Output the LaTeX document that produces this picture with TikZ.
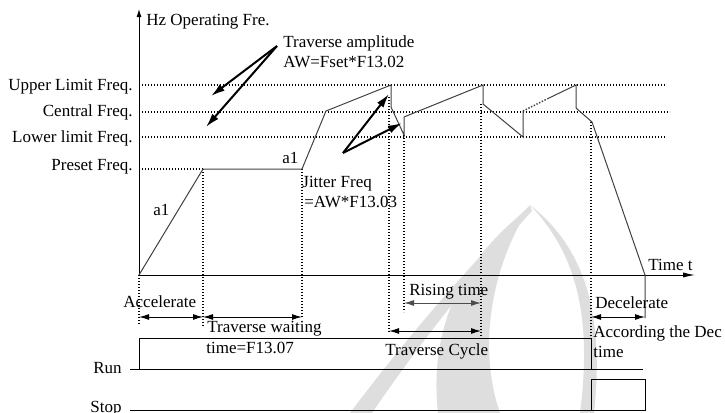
\documentclass[tikz,border=0pt]{standalone}
\usepackage{fontspec}
\setmainfont{Liberation Serif}
\usetikzlibrary{arrows.meta}

\begin{document}
\begin{tikzpicture}[x=0.5pt, y=-0.5pt, font=\fontsize{8.5}{10}\selectfont,
	lbl/.style={inner sep=0pt},
	guide/.style={line width=0.7pt, dash pattern=on 0.7pt off 0.8pt},
	wave/.style={line width=0.5pt, color=black!75},
	span/.style={{Latex[length=5pt,width=3pt]}-{Latex[length=5pt,width=3pt]}, line width=0.5pt},
	pointer/.style={-{Latex[length=7pt,width=4pt]}, line width=1pt},
	logo/.style={fill=black!13}]
	\useasboundingbox (0,0) rectangle (725,413);
	\fill[logo] (350,413) .. controls (420,320) and (480,255) .. (530,205) -- (532,211) .. controls (485,262) and (425,335) .. (372,413) -- cycle;
	\fill[logo] (438,413) .. controls (428,320) and (468,255) .. (530,207) .. controls (490,268) and (478,350) .. (500,413) -- cycle;
	\fill[logo] (530,205) .. controls (578,255) and (592,320) .. (580,413) -- (594,413) .. controls (604,320) and (588,250) .. (530,205) -- cycle;
	\coordinate (O) at (139,275);
	\draw[-{Latex[length=4pt,width=2.5pt]}, line width=0.5pt] (O) -- (139,9);
	\draw[-{Latex[length=6pt,width=2.6pt]}, line width=0.5pt] (O) -- (695,275);
	\foreach \y/\e in {85/665, 112/670, 137/665, 169/203}
		\draw[guide] (139,\y) -- (\e,\y);
	\foreach \x/\a/\b in {139/275/325, 203/169/327, 302/169/318, 389/97/333, 404/135/312, 481/104/338, 591/122/338}
		\draw[guide] (\x,\a) -- (\x,\b);
	\draw[wave] (O) -- (203,169) -- (302,169) -- (326,111) -- (391,85) -- (391,107) -- (404,135) -- (404,117) -- (483,85) -- (483,104) -- (523,137) -- (523,111);
	\draw[wave, guide] (523,111) -- (547,99);
	\draw[wave] (547,99) -- (576,85) -- (576,108) -- (592,122) -- (645,275) -- (645,318);
	\node[lbl, anchor=base west] (yname) at (146,25) {Hz Operating Fre.};
	\node[lbl, anchor=base east] (upper) at (133,90) {Upper Limit Freq.};
	\node[lbl, anchor=base east] (central) at (133,116) {Central Freq.};
	\node[lbl, anchor=base east] (lower) at (133,142) {Lower limit Freq.};
	\node[lbl, anchor=base east] (preset) at (133,170) {Preset Freq.};
	\node[lbl, anchor=base west] (ampA) at (283,47) {Traverse amplitude};
	\node[lbl, anchor=base west] (ampB) at (283,67) {AW=Fset*F13.02};
	\node[lbl, anchor=base west] (jitA) at (302,187) {Jitter Freq};
	\node[lbl, anchor=base west] (jitB) at (304,207) {=AW*F13.03};
	\node[lbl, anchor=base west] (accA) at (153,215) {a1};
	\node[lbl, anchor=base west] (accB) at (282,163) {a1};
	\node[lbl, anchor=base west] (tname) at (648,270) {Time t};
	\coordinate (amp) at (277,46);
	\coordinate (ampU) at (211,96);
	\coordinate (ampL) at (206,127);
	\coordinate (jit) at (343,153);
	\coordinate (jitU) at (389,94);
	\coordinate (jitL) at (402,123);
	\draw[pointer] (amp) -- (ampU);
	\draw[pointer] (amp) -- (ampL);
	\draw[pointer] (jit) -- (jitU);
	\draw[pointer] (jit) -- (jitL);
	\draw[span] (139,317) -- (203,317);
	\draw[span] (203,317) -- (302,317);
	\draw[span, color=black!70] (404,303) -- (481,303);
	\draw[span] (389,331) -- (481,331);
	\draw[span] (591,317) -- (645,317);
	\node[lbl, anchor=base west] (accel) at (123,307) {Accelerate};
	\node[lbl, anchor=base west] (waitA) at (207,332) {Traverse waiting};
	\node[lbl, anchor=base west] (waitB) at (206,353) {time=F13.07};
	\node[lbl, anchor=base west] (rise) at (409,295) {Rising time};
	\node[lbl, anchor=base west] (cycle) at (385,355) {Traverse Cycle};
	\node[lbl, anchor=base west] (decel) at (595,308) {Decelerate};
	\node[lbl, anchor=base west] (decA) at (593,337) {According the Dec};
	\node[lbl, anchor=base west] (decB) at (593,357) {time};
	\node[lbl, anchor=base east] (run) at (122,373) {Run};
	\node[lbl, anchor=base east] (stop) at (122,412) {Stop};
	\draw[line width=0.5pt] (139,369) rectangle (591,338);
	\draw[line width=0.5pt] (130,369) -- (643,369);
	\draw[line width=0.5pt] (591,410) rectangle (645,379);
	\draw[line width=0.5pt] (130,410) -- (645,410);
\end{tikzpicture}
\end{document}
